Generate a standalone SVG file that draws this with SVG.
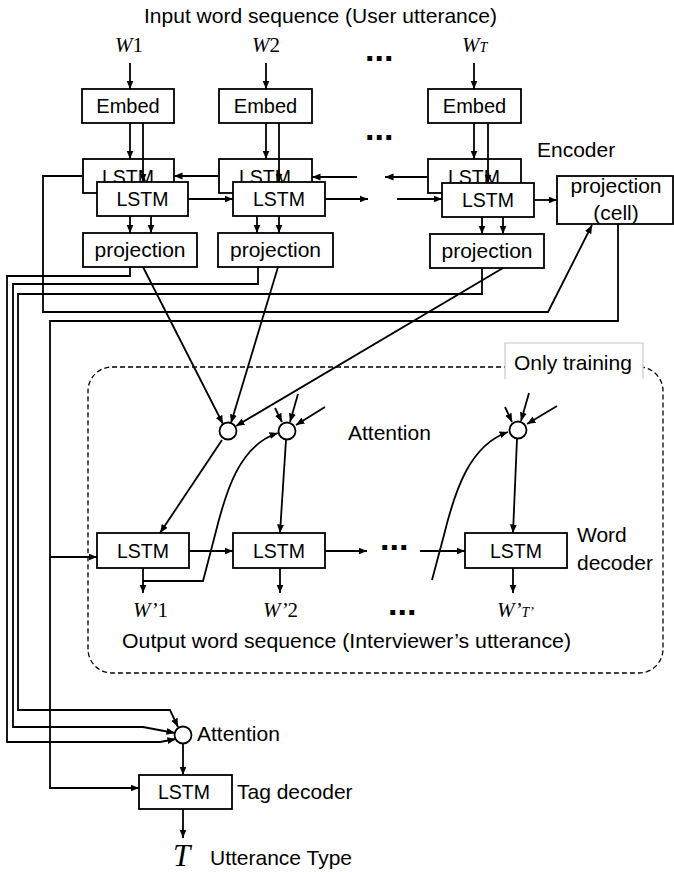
<svg xmlns="http://www.w3.org/2000/svg" width="674" height="872" viewBox="0 0 674 872">
<defs>
<marker id="ah" markerUnits="userSpaceOnUse" markerWidth="9" markerHeight="8" refX="8.5" refY="4" orient="auto">
<path d="M0,0.5 L8.5,4 L0,7.5 z" fill="#000"/>
</marker>
<style>
.box{fill:#fff;stroke:#000;stroke-width:1.8}
.lbl{font-family:"Liberation Sans",Arial,sans-serif;font-size:21px;fill:#000}
.lstm{font-size:19.5px}
.emb{font-size:20px}
.mid{text-anchor:middle}
.math{font-family:"Liberation Serif","Times New Roman",serif;font-size:21px;fill:#000}
.big{font-size:31px}
.sub{font-size:14px}
.it{font-style:italic}
.dots{font-family:"Liberation Sans",Arial,sans-serif;font-weight:bold;font-size:34px;fill:#000}
.arr{fill:none;stroke:#000;stroke-width:1.8;marker-end:url(#ah)}
.circ{fill:#fff;stroke:#000;stroke-width:1.8}
</style>
</defs>
<rect width="674" height="872" fill="#fff"/>

<!-- dashed region -->
<g id="training-region">
<rect x="88" y="367" width="575" height="306" rx="24" ry="24" fill="none" stroke="#000" stroke-width="1.3" stroke-dasharray="5,3"/>
</g>

<!-- connectors -->
<g id="connectors">
<path class="arr" d="M130,63 V89"/>
<path class="arr" d="M266,63 V89"/>
<path class="arr" d="M474,63 V89"/>
<path class="arr" d="M130,123 V159"/>
<path class="arr" d="M266,123 V159"/>
<path class="arr" d="M474,123 V159"/>
<path class="arr" d="M219,176 H174"/>
<path class="arr" d="M357,177 H312"/>
<path class="arr" d="M428,177 H385"/>
<path class="arr" d="M130,267 V276 H7 V742 H160 L176,739"/>
<path class="arr" d="M258,267 V284 H13 V727 H143 L175,733"/>
<path class="arr" d="M482,268 V294 H18 V710 H170 L178,727"/>
<path class="arr" d="M83,176 H43 V312 H548 L592,225"/>
<path class="arr" d="M618,224 V321 H50 V788 H139"/>
<path class="arr" d="M50,557 H97"/>
<path class="arr" d="M143,267 L223,424"/>
<path class="arr" d="M278,267 L231,423"/>
<path class="arr" d="M503,268 L236,426"/>
<path class="arr" d="M275,408 L282,422"/>
<path class="arr" d="M298,394 L290,422"/>
<path class="arr" d="M325,407 L296,425"/>
<path class="arr" d="M143,581 H203 L215,535 C226,490 240,445 278,433"/>
<path class="arr" d="M505,407 L512,422"/>
<path class="arr" d="M529,393 L521,421"/>
<path class="arr" d="M557,406 L527,424"/>
<path class="arr" d="M432,580 L444,535 C455,490 470,445 508,432"/>
<path class="arr" d="M222,440 L160,533"/>
<path class="arr" d="M286,440 L280,533"/>
<path class="arr" d="M517,439 L513,533"/>
<path class="arr" d="M189,551 H233"/>
<path class="arr" d="M325,551 H367"/>
<path class="arr" d="M420,551 H465"/>
<path class="arr" d="M143,568 V593"/>
<path class="arr" d="M280,568 V593"/>
<path class="arr" d="M513,568 V593"/>
<path class="arr" d="M183,744 V775"/>
<path class="arr" d="M183,809 V838"/>
</g>

<!-- Embed nodes -->
<g id="embed1"><rect class="box" x="82" y="89" width="92" height="34"/><text class="lbl emb mid" x="128" y="113">Embed</text></g>
<g id="embed2"><rect class="box" x="219" y="89" width="93" height="34"/><text class="lbl emb mid" x="265.5" y="113">Embed</text></g>
<g id="embed3"><rect class="box" x="428" y="89" width="93" height="34"/><text class="lbl emb mid" x="474.5" y="113">Embed</text></g>

<!-- backward LSTMs -->
<g id="lstm-back1"><rect class="box" x="83" y="159" width="91" height="34"/><text class="lbl lstm mid" x="128" y="184">LSTM</text></g>
<g id="lstm-back2"><rect class="box" x="219" y="159" width="93" height="34"/><text class="lbl lstm mid" x="265" y="184">LSTM</text></g>
<g id="lstm-back3"><rect class="box" x="428" y="159" width="93" height="34"/><text class="lbl lstm mid" x="474" y="184">LSTM</text></g>

<g id="connectors-embed-front">
<path class="arr" d="M143,123 V182"/>
<path class="arr" d="M279,123 V182"/>
<path class="arr" d="M488,123 V183"/>
</g>

<!-- forward LSTMs -->
<g id="lstm-front1"><rect class="box" x="97" y="182" width="91" height="34"/><text class="lbl lstm mid" x="142.5" y="206">LSTM</text></g>
<g id="lstm-front2"><rect class="box" x="233" y="182" width="92" height="34"/><text class="lbl lstm mid" x="279" y="206">LSTM</text></g>
<g id="lstm-front3"><rect class="box" x="442" y="183" width="92" height="34"/><text class="lbl lstm mid" x="488" y="207">LSTM</text></g>

<g id="connectors-forward">
<path class="arr" d="M188,199 H233"/>
<path class="arr" d="M325,199 H368"/>
<path class="arr" d="M397,199 H442"/>
<path class="arr" d="M534,200 H557"/>
<path class="arr" d="M130,216 V233"/>
<path class="arr" d="M151,216 V233"/>
<path class="arr" d="M257,216 V233"/>
<path class="arr" d="M279,216 V233"/>
<path class="arr" d="M482,217 V234"/>
<path class="arr" d="M503,217 V234"/>
</g>

<!-- projections -->
<g id="proj1"><rect class="box" x="83" y="233" width="114" height="34"/><text class="lbl mid" x="140" y="257">projection</text></g>
<g id="proj2"><rect class="box" x="218" y="233" width="115" height="34"/><text class="lbl mid" x="275.5" y="257">projection</text></g>
<g id="proj3"><rect class="box" x="430" y="234" width="114" height="34"/><text class="lbl mid" x="487" y="258">projection</text></g>
<g id="proj-cell"><rect class="box" x="557" y="176" width="116" height="48"/><text class="lbl mid" x="616" y="193">projection</text><text class="lbl mid" x="616" y="220">(cell)</text></g>

<!-- attention circles -->
<g id="att1"><circle class="circ" cx="228" cy="431" r="8.5"/></g>
<g id="att2"><circle class="circ" cx="287" cy="431" r="8.5"/></g>
<g id="att3"><circle class="circ" cx="518" cy="430" r="8.5"/></g>
<g id="att-tag"><circle class="circ" cx="183" cy="735" r="8.5"/></g>

<!-- decoder LSTMs -->
<g id="dec1"><rect class="box" x="97" y="533" width="92" height="35"/><text class="lbl lstm mid" x="143" y="558">LSTM</text></g>
<g id="dec2"><rect class="box" x="233" y="533" width="92" height="35"/><text class="lbl lstm mid" x="279" y="558">LSTM</text></g>
<g id="dec3"><rect class="box" x="465" y="533" width="102" height="35"/><text class="lbl lstm mid" x="516" y="558">LSTM</text></g>
<g id="tag-lstm"><rect class="box" x="139" y="775" width="93" height="34"/><text class="lbl lstm mid" x="184" y="799">LSTM</text></g>

<!-- only training label -->
<g id="only-training">
<rect x="505" y="343" width="138" height="36" fill="#fff"/>
<path d="M505,379 V343 H643 V379" fill="none" stroke="#c8c8c8" stroke-width="1.2"/>
<text class="lbl" x="514" y="370">Only training</text>
</g>

<!-- labels -->
<g id="labels">
<text class="lbl" x="144" y="23" textLength="353" lengthAdjust="spacingAndGlyphs">Input word sequence (User utterance)</text>
<text class="math" x="115" y="52"><tspan class="it">W</tspan>1</text>
<text class="math" x="252" y="52"><tspan class="it">W</tspan>2</text>
<text class="math" x="462" y="52"><tspan class="it">W</tspan><tspan class="it sub">T</tspan></text>
<text class="dots" x="365" y="60.5">...</text>
<text class="dots" x="365" y="139.5">...</text>
<text class="lbl" x="537" y="157">Encoder</text>
<text class="lbl" x="348" y="440">Attention</text>
<text class="dots" x="380" y="549.5">...</text>
<text class="lbl" x="577" y="542">Word</text>
<text class="lbl" x="577" y="570">decoder</text>
<text class="math" x="133" y="617"><tspan class="it">W’</tspan>1</text>
<text class="math" x="263" y="617"><tspan class="it">W’</tspan>2</text>
<text class="dots" x="388" y="614.5">...</text>
<text class="math" x="497" y="617"><tspan class="it">W’</tspan><tspan class="it sub">T’</tspan></text>
<text class="lbl" x="122" y="648" textLength="449" lengthAdjust="spacingAndGlyphs">Output word sequence (Interviewer’s utterance)</text>
<text class="lbl" x="197" y="741">Attention</text>
<text class="lbl" x="237" y="799">Tag decoder</text>
<text class="math big it" x="173" y="866">T</text>
<text class="lbl" x="210" y="865">Utterance Type</text>
</g>
</svg>
